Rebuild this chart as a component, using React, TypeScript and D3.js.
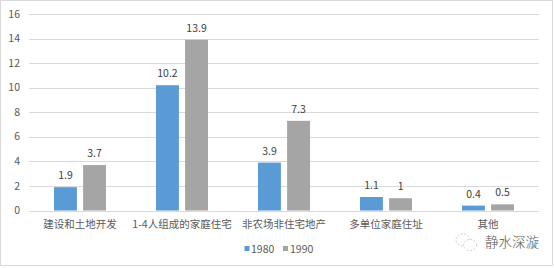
import React from "react";
import * as d3 from "d3";

const categories = ["建设和土地开发", "1-4人组成的家庭住宅", "非农场非住宅地产", "多单位家庭住址", "其他"];
const series = ["1980", "1990"];
const values1980 = [1.9, 10.2, 3.9, 1.1, 0.4];
const values1990 = [3.7, 13.9, 7.3, 1, 0.5];
const yTicks = [0, 2, 4, 6, 8, 10, 12, 14, 16];
const colors = ["#5B9BD5", "#A5A5A5"];

const W = 554;
const H = 268;
const FONT = "'Noto Sans CJK SC', 'Microsoft YaHei', sans-serif";

export default function App() {
  const x = d3.scaleBand<string>().domain(categories).range([29, 539]).paddingInner(0).paddingOuter(0);
  const inner = d3.scaleBand<string>().domain(series).range([-26, 26]).paddingInner(0.213).paddingOuter(0);
  const y = d3.scaleLinear().domain([0, 16]).range([210.5, 14]);
  const data = [values1980, values1990];

  return (
    <svg
      width={W}
      height={H}
      style={{ position: "absolute", left: 0, top: 0, background: "#fff" }}
      fontFamily={FONT}
    >
      <rect x={0.5} y={0.5} width={552} height={265} fill="#fff" stroke="#D9D9D9" strokeWidth={1} />
      {yTicks.map((t) => (
        <g key={t}>
          <line x1={29} x2={539} y1={Math.round(y(t)) + 0.5} y2={Math.round(y(t)) + 0.5} stroke="#D9D9D9" strokeWidth={1} />
          <text x={20} y={y(t)} dy="0.35em" textAnchor="end" fontSize={10.5} fill="#595959">
            {t}
          </text>
        </g>
      ))}
      {series.map((s, si) =>
        categories.map((c, ci) => {
          const v = data[si][ci];
          const cx = (x(c) as number) + x.bandwidth() / 2;
          const bx = cx + (inner(s) as number);
          return (
            <g key={s + c}>
              <rect x={bx} y={y(v)} width={inner.bandwidth()} height={y(0) - y(v)} fill={colors[si]} />
              <text
                x={bx + inner.bandwidth() / 2}
                y={y(v) - 8}
                textAnchor="middle"
                fontSize={10.5}
                fill="#404040"
              >
                {v}
              </text>
            </g>
          );
        })
      )}
      {categories.map((c) => (
        <text
          key={c}
          x={(x(c) as number) + x.bandwidth() / 2}
          y={224}
          dy="0.35em"
          textAnchor="middle"
          fontSize={10.5}
          fill="#595959"
        >
          {c}
        </text>
      ))}
      <g>
        <rect x={244.5} y={246} width={5} height={5} fill={colors[0]} />
        <text x={251} y={249} dy="0.35em" fontSize={10.5} fill="#595959">{series[0]}</text>
        <rect x={283} y={246} width={5} height={5} fill={colors[1]} />
        <text x={290} y={249} dy="0.35em" fontSize={10.5} fill="#595959">{series[1]}</text>
      </g>
      <g stroke="#BFBFBF" fill="none" strokeWidth={0.8} strokeDasharray="2 1.5">
        <ellipse cx={463} cy={240} rx={7} ry={6} />
        <ellipse cx={470} cy={245} rx={6.5} ry={5.5} fill="#fff" />
      </g>
      <text x={485} y={242.5} dy="0.35em" fontSize={13.5} fill="#555" fontWeight={300}>
        静水深漩
      </text>
    </svg>
  );
}
